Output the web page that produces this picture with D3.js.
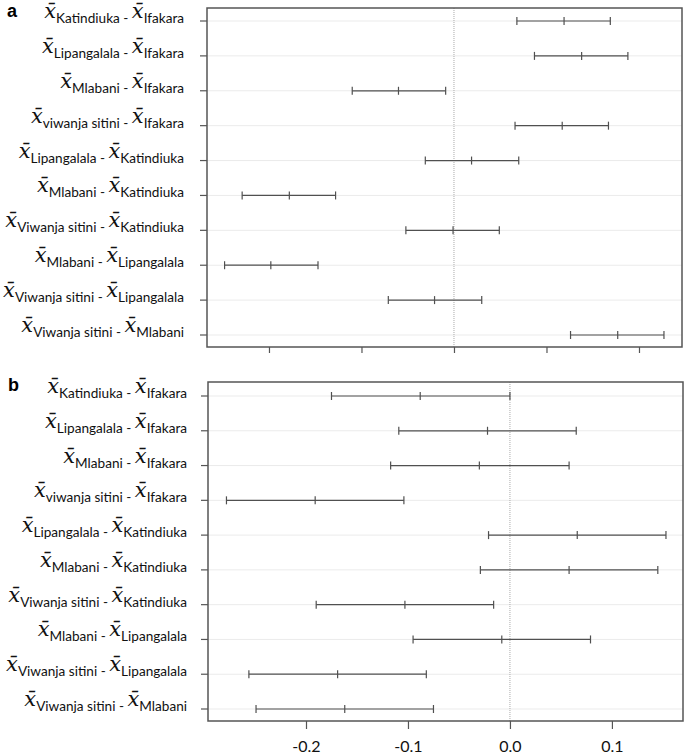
<!DOCTYPE html>
<html>
<head>
<meta charset="utf-8">
<script src="https://cdn.jsdelivr.net/npm/d3@7"></script>
<style>
  body { margin: 0; background: #fff; }
</style>
</head>
<body>
<div id="chart"></div>
<script>
const width = 685;
const height = 755;

// comparisons (first - second)
const firstSite = ["Katindiuka", "Lipangalala", "Mlabani", "viwanja sitini", "Lipangalala",
  "Mlabani", "Viwanja sitini", "Mlabani", "Viwanja sitini", "Viwanja sitini"];
const secondSite = ["Ifakara", "Ifakara", "Ifakara", "Ifakara", "Katindiuka",
  "Katindiuka", "Katindiuka", "Lipangalala", "Lipangalala", "Mlabani"];

// panel a
const lowerA = [0.068, 0.087, -0.110, 0.066, -0.031, -0.229, -0.052, -0.248, -0.071, 0.126];
const meanA  = [0.119, 0.138, -0.060, 0.117, 0.019, -0.178, -0.001, -0.198, -0.021, 0.177];
const upperA = [0.169, 0.188, -0.009, 0.167, 0.070, -0.128, 0.049, -0.147, 0.030, 0.227];

// panel b
const lowerB = [-0.175, -0.109, -0.117, -0.278, -0.021, -0.029, -0.190, -0.095, -0.256, -0.249];
const meanB  = [-0.088, -0.022, -0.030, -0.191, 0.066, 0.058, -0.103, -0.008, -0.169, -0.162];
const upperB = [0.000, 0.065, 0.058, -0.104, 0.153, 0.145, -0.016, 0.079, -0.082, -0.075];

const ticksA = [-0.2, -0.1, 0.0, 0.1, 0.2];
const ticksB = [-0.2, -0.1, 0.0, 0.1];
const tickLabelsB = ["-0.2", "-0.1", "0.0", "0.1"];

const svg = d3.select("#chart")
  .append("svg")
  .attr("width", width)
  .attr("height", height);

function panel(opts) {
  const g = svg.append("g");
  const x = d3.scaleLinear().domain(opts.domain).range([opts.left, opts.right]);
  const y = d3.scalePoint().domain(d3.range(firstSite.length)).range(opts.rows);

  // gridlines
  g.selectAll("line.grid")
    .data(y.domain())
    .enter().append("line")
    .attr("x1", opts.left).attr("x2", opts.right)
    .attr("y1", d => y(d)).attr("y2", d => y(d))
    .attr("stroke", "#ebebeb").attr("stroke-width", 1);

  // zero line
  g.append("line")
    .attr("x1", x(0)).attr("x2", x(0))
    .attr("y1", opts.top).attr("y2", opts.bottom)
    .attr("stroke", "#aaa").attr("stroke-dasharray", "1,1");

  // error bars
  const rows = y.domain().map(i => ({ i, lo: opts.lower[i], m: opts.mean[i], hi: opts.upper[i] }));
  const bar = g.selectAll("g.bar").data(rows).enter().append("g")
    .attr("stroke", "#505050").attr("stroke-width", 1.2);
  bar.append("line")
    .attr("x1", d => x(d.lo)).attr("x2", d => x(d.hi))
    .attr("y1", d => y(d.i)).attr("y2", d => y(d.i));
  ["lo", "m", "hi"].forEach(k => {
    bar.append("line")
      .attr("x1", d => x(d[k])).attr("x2", d => x(d[k]))
      .attr("y1", d => y(d.i) - 4).attr("y2", d => y(d.i) + 4);
  });

  // box
  g.append("rect")
    .attr("x", opts.left).attr("y", opts.top)
    .attr("width", opts.right - opts.left).attr("height", opts.bottom - opts.top)
    .attr("fill", "none").attr("stroke", "#555").attr("stroke-width", 1.5);

  // bottom axis
  const xAxis = d3.axisBottom(x).tickValues(opts.ticks).tickSize(opts.tickLen)
    .tickFormat((d, i) => opts.tickLabels ? opts.tickLabels[i] : "");
  const ax = g.append("g").attr("transform", `translate(0,${opts.bottom})`).call(xAxis);
  ax.select(".domain").remove();
  ax.selectAll(".tick line").attr("stroke", "#555").attr("stroke-width", 1.2);
  ax.selectAll(".tick text")
    .attr("font-family", "Lato, 'Open Sans', sans-serif")
    .attr("font-size", 16).attr("fill", "#111").attr("dy", "1.25em");

  // left ticks
  g.selectAll("line.ytick").data(y.domain()).enter().append("line")
    .attr("x1", opts.left - 7).attr("x2", opts.left)
    .attr("y1", d => y(d)).attr("y2", d => y(d))
    .attr("stroke", "#555").attr("stroke-width", 1.2);

  // labels: x̄_first - x̄_second
  const lab = g.selectAll("text.lab").data(y.domain()).enter().append("text")
    .attr("x", opts.labelX).attr("y", d => y(d) - 3)
    .attr("text-anchor", "end").attr("fill", "#111");
  const big = s => s.append("tspan")
    .attr("font-family", "'DejaVu Serif', serif")
    .attr("font-style", "italic").attr("font-size", 21)
    .text("x\u0304");
  const sub = (s, f, dy) => s.append("tspan")
    .attr("font-family", "Lato, 'Open Sans', sans-serif")
    .attr("font-size", 13.6).attr("dy", dy)
    .text(f);
  big(lab);
  sub(lab, d => firstSite[d] + " - ", 5);
  big(lab).attr("dy", -5);
  sub(lab, d => secondSite[d], 5);

  svg.append("text")
    .attr("x", opts.letterX).attr("y", opts.letterY)
    .attr("font-family", "'Liberation Sans', Arial, sans-serif")
    .attr("font-weight", "bold").attr("font-size", 18)
    .text(opts.letter);
}

panel({
  letter: "a", letterX: 7, letterY: 17,
  left: 207, right: 682, top: 8, bottom: 347,
  domain: [-0.267, 0.2465], rows: [21, 335],
  lower: lowerA, mean: meanA, upper: upperA,
  ticks: ticksA, tickLabels: null, tickLen: 6,
  labelX: 184
});

panel({
  letter: "b", letterX: 8, letterY: 391,
  left: 208, right: 683, top: 382, bottom: 721,
  domain: [-0.2961, 0.1697], rows: [396, 709],
  lower: lowerB, mean: meanB, upper: upperB,
  ticks: ticksB, tickLabels: tickLabelsB, tickLen: 8,
  labelX: 187
});
</script>
</body>
</html>
